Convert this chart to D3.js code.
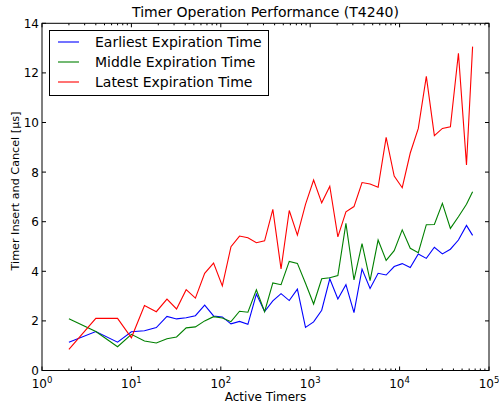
<!DOCTYPE html>
<html><head><meta charset="utf-8">
<script src="https://cdn.jsdelivr.net/npm/d3@7"></script>
<style>body{margin:0;background:#fff;} text{font-family:"DejaVu Sans",sans-serif;fill:#000;}</style>
</head><body><svg id="c" width="499" height="405"></svg>
<script>
const activeTimers = [2,4,7,10,14,19,25,32,41,52,66,83,104,130,162,201,250,309,382,472,583,719,886,1092,1345,1656,2039,2510,3089,3800,4675,5750,7073,8700,10700,13160,16185,19905,24480,30100,37000,45500,56000,65536];
const earliest = [1.14,1.57,1.14,1.56,1.60,1.73,2.18,2.08,2.13,2.21,2.64,2.20,2.16,1.88,1.98,1.86,3.08,2.38,2.81,3.10,2.82,3.28,1.74,1.96,2.43,3.70,2.88,3.46,2.33,4.09,3.31,3.92,3.85,4.19,4.31,4.15,4.70,4.52,4.97,4.70,4.89,5.26,5.85,5.45];
const middle = [2.09,1.57,0.96,1.46,1.19,1.11,1.28,1.35,1.72,1.76,2.00,2.17,2.12,1.97,2.39,2.35,3.25,2.37,3.53,3.46,4.40,4.32,3.52,2.68,3.70,3.74,3.83,5.93,3.65,5.12,3.62,5.26,4.44,4.83,5.67,4.93,4.75,5.88,5.89,6.74,5.73,6.20,6.70,7.21];
const latest = [0.85,2.10,2.10,1.32,2.62,2.37,2.88,2.48,3.26,2.92,3.92,4.33,3.41,4.99,5.42,5.35,5.15,5.23,6.50,4.10,6.45,5.46,6.70,7.68,6.76,7.43,5.39,6.40,6.61,7.58,7.52,7.39,9.40,7.84,7.37,8.77,9.76,11.86,9.47,9.76,9.83,12.79,8.29,13.06];
const seriesNames = ["Earliest Expiration Time","Middle Expiration Time","Latest Expiration Time"];
const seriesColors = ["#0000ff","#008000","#ff0000"];
const yTicks = [0,2,4,6,8,10,12,14];
const xExponents = [0,1,2,3,4,5];

const svg = d3.select("#c");
const L=42, R=489, T=23.3, B=370.5;
const x = d3.scaleLog().domain([1,1e5]).range([L,R]);
const y = d3.scaleLinear().domain([0,14]).range([B,T]);

const allSeries=[earliest,middle,latest];
const line = d3.line().x((d,i)=>x(activeTimers[i])).y(d=>y(d));
allSeries.forEach((s,k)=>{
  svg.append("path").datum(s).attr("d",line).attr("fill","none")
    .attr("stroke",seriesColors[k]).attr("stroke-width",1.1).attr("stroke-linejoin","miter");
});

svg.append("rect").attr("x",L).attr("y",T).attr("width",R-L).attr("height",B-T)
  .attr("fill","none").attr("stroke","#000").attr("stroke-width",1);

const g = svg.append("g");
yTicks.forEach(v=>{
  const yy=y(v);
  g.append("line").attr("x1",L).attr("x2",L+4).attr("y1",yy).attr("y2",yy).attr("stroke","#000");
  g.append("line").attr("x1",R).attr("x2",R-4).attr("y1",yy).attr("y2",yy).attr("stroke","#000");
  g.append("text").attr("x",L-3).attr("y",yy+4.5).attr("text-anchor","end").attr("font-size",12).text(v);
});
xExponents.forEach(e=>{
  const v=Math.pow(10,e), xx=x(v);
  g.append("line").attr("x1",xx).attr("x2",xx).attr("y1",B).attr("y2",B-4).attr("stroke","#000");
  g.append("line").attr("x1",xx).attr("x2",xx).attr("y1",T).attr("y2",T+4).attr("stroke","#000");
  const t=g.append("text").attr("x",xx).attr("y",B+17).attr("text-anchor","middle").attr("font-size",12);
  t.append("tspan").text("10");
  t.append("tspan").attr("dy",-5).attr("font-size",8.5).text(e);
  if(e<5){
    for(let m=2;m<=9;m++){
      const xm=x(m*v);
      g.append("line").attr("x1",xm).attr("x2",xm).attr("y1",B).attr("y2",B-2).attr("stroke","#000");
      g.append("line").attr("x1",xm).attr("x2",xm).attr("y1",T).attr("y2",T+2).attr("stroke","#000");
    }
  }
});

svg.append("text").attr("x",(L+R)/2).attr("y",17).attr("text-anchor","middle").attr("font-size",14).text("Timer Operation Performance (T4240)");
svg.append("text").attr("x",(L+R)/2).attr("y",401).attr("text-anchor","middle").attr("font-size",12).text("Active Timers");
svg.append("text").attr("transform",`translate(19,191) rotate(-90)`).attr("text-anchor","middle").attr("font-size",11.2).text("Timer Insert and Cancel [µs]");

const lg = svg.append("g");
lg.append("rect").attr("x",49.5).attr("y",30.5).attr("width",219).attr("height",65).attr("fill","#fff").attr("stroke","#000").attr("stroke-width",1);
seriesNames.forEach((n,i)=>{
  const yy=42+i*20;
  lg.append("line").attr("x1",58).attr("x2",79).attr("y1",yy).attr("y2",yy).attr("stroke",seriesColors[i]).attr("stroke-width",1.1);
  lg.append("text").attr("x",95).attr("y",yy+5).attr("font-size",14).text(n);
});
</script></body></html>
